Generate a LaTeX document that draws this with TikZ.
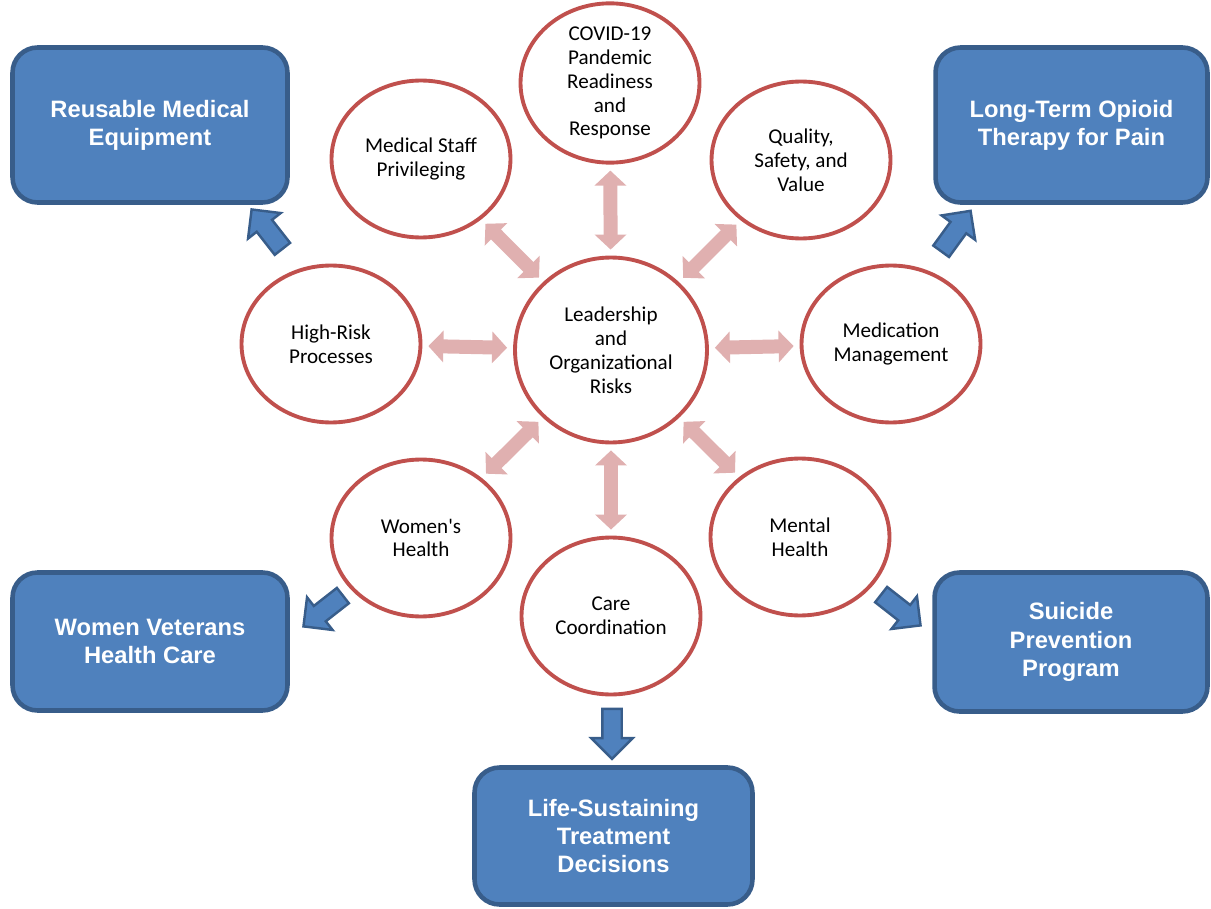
\documentclass[tikz,border=0pt]{standalone}
\usepackage{fontspec}
\setmainfont{Carlito}
\newfontfamily\boxfont{Liberation Sans}
\usetikzlibrary{shapes.geometric, shapes.arrows, arrows.meta}
\definecolor{riskred}{HTML}{C0504D}
\definecolor{linkpink}{HTML}{E0B0B0}
\definecolor{progblue}{HTML}{4F81BD}
\definecolor{progedge}{HTML}{385D8A}
\tikzset{
  area/.style={ellipse, draw=riskred, line width=2.2pt, fill=white, minimum width=3.58cm, minimum height=3.14cm, inner sep=0pt, align=center, font=\fontsize{12}{13.6}\selectfont},
  program/.style={rectangle, rounded corners=0.5cm, draw=progedge, fill=progblue, line width=2.6pt, text=white, align=center, minimum width=5.5cm, font=\boxfont\bfseries\fontsize{13.5}{16}\selectfont},
  link/.style={draw=linkpink, line width=0.28cm, {Triangle[width=0.62cm,length=0.3cm]}-{Triangle[width=0.62cm,length=0.3cm]}, shorten <=0.12cm, shorten >=0.12cm},
  push/.style={single arrow, draw=progedge, fill=progblue, line width=1.4pt, minimum height=1.0cm, inner xsep=0pt, inner ysep=0.17cm, single arrow head extend=0.22cm}
}

\begin{document}
\begin{tikzpicture}[x=0.02cm, y=-0.02cm]
    \useasboundingbox (0,0) rectangle (1211,909);
    % Nodes
    \node [area, minimum width=3.84cm, minimum height=3.70cm] (lead) at (611,350) {Leadership\\and\\Organizational\\Risks};
    \node [area] (covid) at (610,83) {COVID-19\\Pandemic\\Readiness\\and\\Response};
    \node [area] (staff) at (421,159) {Medical Staff\\Privileging};
    \node [area] (quality) at (801,160) {Quality,\\Safety, and\\Value};
    \node [area] (hirisk) at (331,344) {High-Risk\\Processes};
    \node [area] (medmgmt) at (891,344) {Medication\\Management};
    \node [area] (women) at (421,538) {Women\textquotesingle s\\Health};
    \node [area] (mental) at (800,537) {Mental\\Health};
    \node [area] (care) at (611,616) {Care\\Coordination};

    \node [program, minimum height=3.1cm] (reuse) at (150,125) {Reusable Medical\\Equipment};
    \node [program, minimum width=5.44cm, minimum height=3.1cm] (opioid) at (1071.5,125) {Long-Term Opioid\\Therapy for Pain};
    \node [program, minimum height=2.76cm] (wvhc) at (150,641.5) {Women Veterans\\Health Care};
    \node [program, minimum width=5.46cm, minimum height=2.78cm] (suicide) at (1071,642) {Suicide\\Prevention\\Program};
    \node [program, minimum width=5.56cm, minimum height=2.74cm] (lifesust) at (613.5,836) {Life-Sustaining\\Treatment\\Decisions};

    % Paths
    \foreach \n in {covid, staff, quality, hirisk, medmgmt, women, mental, care}
        \draw [link] (lead) -- (\n);

    % Block arrows
    \node [push, rotate=128] (toreuse) at (270,233) {};
    \node [push, rotate=54] (toopioid) at (953,235) {};
    \node [push, rotate=218] (towvhc) at (327,608) {};
    \node [push, rotate=-38] (tosuicide) at (897,607) {};
    \node [push, rotate=-90] (tolife) at (612,729) {};
\end{tikzpicture}
\end{document}
